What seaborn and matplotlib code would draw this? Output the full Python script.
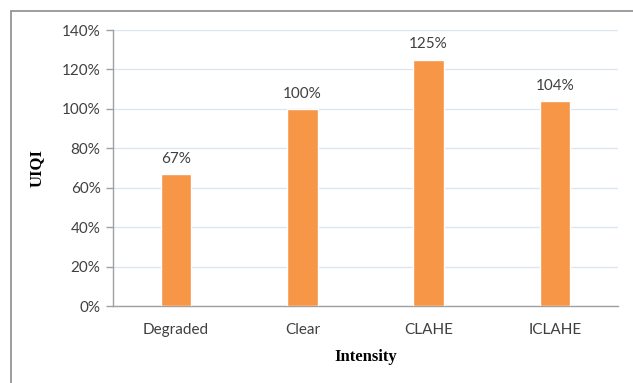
import matplotlib
matplotlib.use("Agg")
import matplotlib.pyplot as plt
import seaborn as sns
import pandas as pd
from matplotlib.ticker import PercentFormatter, MultipleLocator
from matplotlib.patches import Rectangle

categories = ["Degraded", "Clear", "CLAHE", "ICLAHE"]
uiqi = [67, 100, 125, 104]
value_labels = ["67%", "100%", "125%", "104%"]

sns.set_theme(style="white")
plt.rcParams["font.family"] = ["Lato", "DejaVu Sans"]

df = pd.DataFrame({"Intensity": categories, "UIQI": uiqi})

W, H = 633, 383
fig = plt.figure(figsize=(W / 100, H / 100), dpi=100)
ax = fig.add_axes([113 / W, 1 - 306 / H, (618 - 113) / W, (306 - 30) / H])

sns.barplot(data=df, x="Intensity", y="UIQI", color="#F79646", width=0.24,
            saturation=1, ax=ax, zorder=3)

ax.set_ylim(0, 140)
ax.set_xlim(-0.5, 3.5)
ax.yaxis.set_major_locator(MultipleLocator(20))
ax.yaxis.set_major_formatter(PercentFormatter(decimals=0))
ax.grid(axis="y", color="#DCE6F2", linewidth=1, zorder=0)

for side in ["top", "right"]:
    ax.spines[side].set_visible(False)
for side in ["left", "bottom"]:
    ax.spines[side].set_color("#A0A0A0")
    ax.spines[side].set_linewidth(1)

ax.set_xticks([0, 1, 2, 3])
ax.set_xticklabels(categories)
ax.set_xticks([-0.5, 0.5, 1.5, 2.5, 3.5], minor=True)
ax.tick_params(axis="x", which="major", length=0, pad=12, labelsize=11, labelcolor="#404040")
ax.tick_params(axis="x", which="minor", length=5, color="#A0A0A0", width=1, direction="out")
ax.tick_params(axis="y", length=5, color="#A0A0A0", width=1, direction="out",
               labelsize=11, labelcolor="#404040", pad=4, left=True)

for bar, lbl in zip(ax.patches, value_labels):
    ax.annotate(lbl, (bar.get_x() + bar.get_width() / 2, bar.get_height()),
                xytext=(0, 6), textcoords="offset points", ha="center", va="bottom",
                fontsize=11, color="#404040")

ax.set_xlabel("Intensity", family="Liberation Serif", fontweight="bold", fontsize=12,
              color="black", labelpad=9)
ax.set_ylabel("UIQI", family="Liberation Serif", fontweight="bold", fontsize=12,
              color="black", labelpad=12)

# outer chart border
fig.patches.append(Rectangle((11 / W, -0.1), 1.1, 1 - 11 / H + 0.1, transform=fig.transFigure,
                             fill=False, edgecolor="#8C8C8C", linewidth=1.2))

fig.savefig("out.png", dpi=100)
